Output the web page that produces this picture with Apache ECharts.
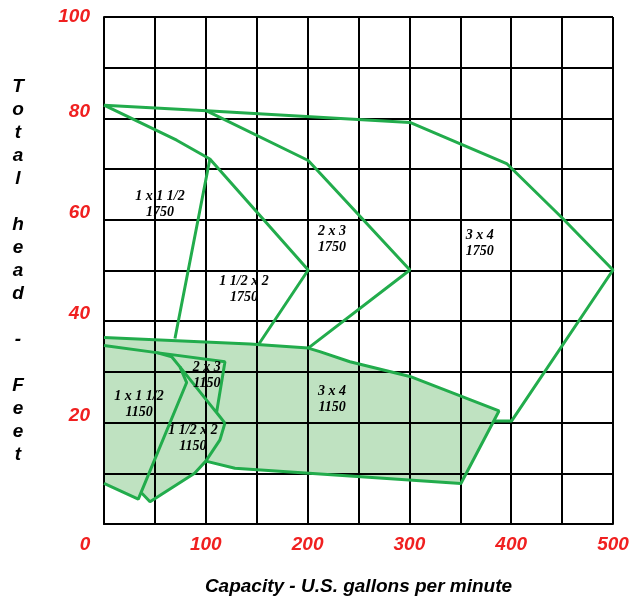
<!DOCTYPE html>
<html>
<head>
<meta charset="utf-8">
<script src="https://cdn.jsdelivr.net/npm/echarts@6/dist/echarts.min.js"></script>
<style>
html,body{margin:0;padding:0;background:#fff;}
#chart{width:638px;height:600px;}
</style>
</head>
<body>
<div id="chart"></div>
<script>
// pump curves, [gpm, head ft]
const p1750_1x1h = [[0,82.6],[71.4,75.7],[104,72],[69.7,36.6]];
const p1750_1hx2 = [[104,72],[200.6,50.1],[151.5,35.3]];
const p1750_2x3 = [[100.8,81.5],[200.6,71.7],[300.5,50.1],[200.6,34.7]];
const p1750_3x4 = [[0,82.6],[100.8,81.5],[300.5,79.2],[395.5,71.1],[450.4,60.3],[500,50.1],[400.3,20.3],[383,20.3]];

const p1150_3x4 = [[0,36.8],[143.4,35.5],[200.6,34.7],[212,34],[241.6,32],[300.5,29.1],[388,22.3],[350.6,8],[128.6,11],[100,12.4]];
const p1150_1x1h = [[0,35.2],[51.7,33.8],[66.5,33],[74.6,31],[81.2,27.9],[33.7,4.9],[0,8]];
const p1150_2x3 = [[51.7,33.8],[118.8,32],[110.6,22],[118.8,19.9],[74.6,31]];
const p1150_1hx2 = [[118.8,19.9],[113.9,16.6],[100,12.4],[89,10],[45.2,4.4],[37,6.1]];

// region labels and where they sit
const labelNames = ['1 x 1 1/2\n1750','1 1/2 x 2\n1750','2 x 3\n1750','3 x 4\n1750','2 x 3\n1150','1 x 1 1/2\n1150','1 1/2 x 2\n1150','3 x 4\n1150'];
const labelAt = [[55,63.1],[137.5,46.2],[224,56.2],[369,55.4],[101,29.4],[34.4,23.5],[87.4,16.8],[224,24.5]];

const xTicks = [0,100,200,300,400,500];
const yTicks = [20,40,60,80,100];

// shaded 1150 rpm area = outer edge of the 1150 curves
const fillOutline = p1150_3x4.concat(p1150_1hx2.slice(3), p1150_1x1h.slice(5));

const green = '#22ac4c';
const red = '#f02020';
const numFont = {color:red,fontFamily:'Liberation Sans',fontSize:19,fontStyle:'italic',fontWeight:'bold'};

let chart = echarts.init(document.getElementById('chart'));

let lineSeries = [p1750_1x1h,p1750_1hx2,p1750_2x3,p1750_3x4,p1150_3x4,p1150_1x1h,p1150_2x3,p1150_1hx2].map(d => ({
  type:'line',
  data:d,
  showSymbol:false,
  silent:true,
  lineStyle:{color:green,width:3},
  z:3
}));

chart.setOption({
  animation:false,
  grid:{left:104,right:25,top:17,bottom:76,outerBoundsMode:'none'},
  xAxis:{
    type:'value',min:0,max:500,interval:50,
    name:'Capacity - U.S. gallons per minute',
    nameLocation:'middle',nameGap:53,
    nameTextStyle:{fontFamily:'Liberation Sans',fontSize:19,fontWeight:'bold',fontStyle:'italic',color:'#000'},
    axisLine:{lineStyle:{color:'#000',width:2}},
    axisTick:{show:false},
    splitLine:{lineStyle:{color:'#000',width:2}},
    axisLabel:Object.assign({
      margin:11,
      formatter:v => xTicks.indexOf(v) < 0 ? '' : (v === 0 ? '{o|0}' : String(v)),
      rich:{o:Object.assign({padding:[0,38,0,0]},numFont)}
    },numFont)
  },
  yAxis:{
    type:'value',min:0,max:100,interval:10,
    name:'Total head - Feet'.split('').join('\n'),
    nameLocation:'middle',nameGap:86,nameRotate:0,
    nameTextStyle:{fontFamily:'Liberation Sans',fontSize:19,fontWeight:'bold',fontStyle:'italic',color:'#000',
      lineHeight:23,align:'center',verticalAlign:'middle'},
    axisLine:{lineStyle:{color:'#000',width:2}},
    axisTick:{show:false},
    splitLine:{lineStyle:{color:'#000',width:2}},
    axisLabel:Object.assign({
      margin:14,
      formatter:v => yTicks.indexOf(v) < 0 ? '' : (v === 100 ? '100' : '{u|' + v + '}'),
      rich:{u:Object.assign({padding:[0,0,14,0]},numFont)}
    },numFont)
  },
  series:[
    {
      type:'custom',
      data:[[0,0]],
      silent:true,
      z:-1,
      renderItem:(params,api) => ({
        type:'polygon',
        shape:{points:fillOutline.map(p => api.coord(p))},
        style:{fill:'#bfe2c1'}
      })
    },
    ...lineSeries,
    {
      type:'scatter',
      symbolSize:0,
      silent:true,
      z:4,
      itemStyle:{opacity:1},
      data:labelNames.map((n,i) => ({name:n,value:labelAt[i]})),
      label:{
        show:true,position:'inside',formatter:'{b}',
        fontFamily:'Liberation Serif',fontSize:14,fontWeight:'bold',fontStyle:'italic',
        color:'#000',textBorderWidth:0,textBorderColor:'transparent',
        lineHeight:16,align:'center',verticalAlign:'middle'
      }
    }
  ]
});
</script>
</body>
</html>
